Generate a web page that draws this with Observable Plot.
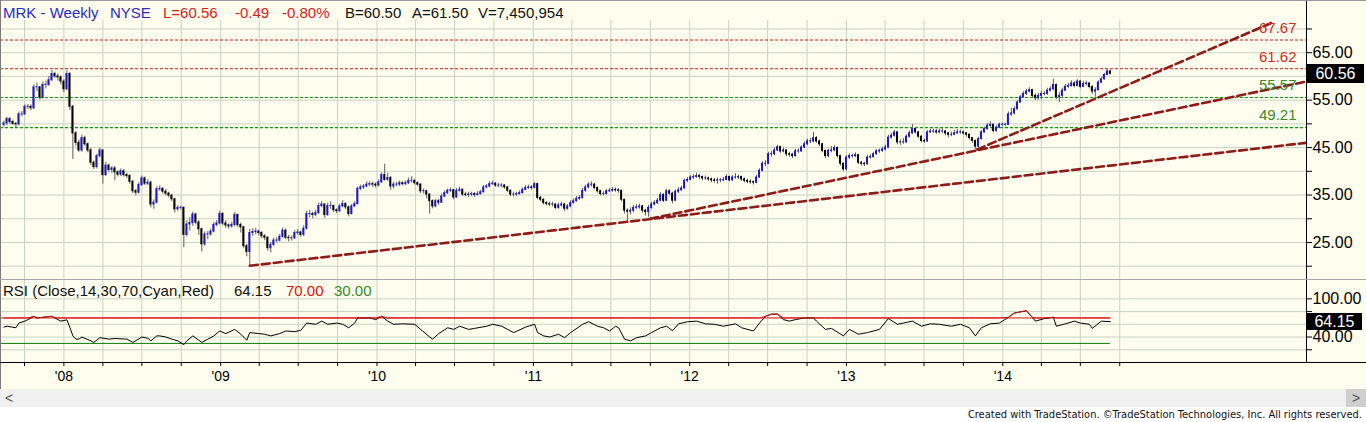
<!DOCTYPE html>
<html>
<head>
<meta charset="utf-8">
<script src="https://cdn.jsdelivr.net/npm/d3@7"></script>
<script src="https://cdn.jsdelivr.net/npm/@observablehq/plot@0.6"></script>
<style>
  body { margin: 0; background: #fff; }
  #wrap { position: relative; width: 1366px; height: 422px; overflow: hidden; font-family: Arial, "Liberation Sans", sans-serif; background: #fff; }
  .abs { position: absolute; white-space: pre; line-height: 1; }
</style>
</head>
<body>
<div id="wrap"></div>
<script>
// ---------------- DATA (weekly bars) ----------------
const firstBarDate = "2007-08-14";
const firstOpen = 49.8;
const closes = [
  50.1,51.0,50.4,50.0,49.9,52.0,52.0,53.6,53.6,53.3,
  57.7,57.7,55.5,58.2,58.2,59.2,60.5,60.0,59.8,58.9,
  57.3,60.5,53.6,48.0,46.0,44.4,47.0,45.7,44.4,41.8,
  40.9,43.2,44.4,39.2,41.2,40.3,40.6,39.8,39.3,40.0,
  39.2,39.0,37.8,35.8,35.5,37.1,38.5,37.4,37.6,33.0,
  33.4,36.2,36.3,35.7,35.3,34.9,34.1,32.0,32.3,32.3,
  26.6,28.8,29.1,30.9,29.2,27.8,24.6,26.7,26.7,27.3,
  28.7,29.0,31.0,29.0,28.6,28.4,28.7,30.8,28.7,28.2,
  24.2,23.0,27.0,27.2,27.3,27.0,26.3,26.0,23.8,24.5,
  25.4,25.4,26.2,27.5,26.0,25.9,25.9,27.0,27.1,26.6,
  27.9,31.0,31.0,30.8,31.2,32.7,33.0,30.8,32.7,32.7,
  31.8,31.6,32.6,33.1,32.4,31.0,32.6,33.1,36.3,36.6,
  36.8,37.2,37.3,37.2,37.0,37.7,39.2,38.2,38.6,36.8,
  37.2,37.2,37.5,37.3,37.5,38.0,38.0,37.5,37.2,35.8,
  35.8,35.1,33.7,32.6,33.7,33.4,34.7,35.4,35.9,36.0,
  34.5,35.9,36.1,35.1,35.0,35.1,35.2,35.0,35.2,35.6,
  36.6,36.8,37.3,37.4,37.0,37.0,37.0,36.6,35.9,35.1,
  35.1,35.2,35.4,36.1,36.5,36.6,36.5,37.3,34.4,34.0,
  33.3,33.1,33.0,33.0,32.3,32.8,33.0,32.1,32.6,33.3,
  33.7,34.2,34.4,35.9,36.6,37.2,37.2,36.5,35.8,35.2,
  35.2,35.8,35.9,36.1,36.0,35.9,34.0,31.7,31.5,31.7,
  32.3,32.4,32.6,31.7,31.4,32.3,33.0,33.3,33.8,35.0,
  33.8,35.8,35.3,33.8,35.7,36.0,36.4,38.0,38.2,38.7,
  38.8,39.0,38.8,38.5,38.5,38.3,38.1,38.0,38.1,38.1,
  38.2,38.8,38.1,38.7,38.7,38.8,38.3,38.0,37.8,37.7,
  37.6,38.7,40.1,41.6,41.6,43.6,43.6,44.4,45.1,44.2,
  44.4,43.6,43.5,43.2,44.2,44.2,45.0,45.7,46.3,46.3,
  47.0,46.3,45.7,44.3,43.2,44.3,44.4,44.9,43.2,41.6,
  40.4,42.9,43.2,43.2,43.4,41.8,41.6,41.5,42.9,43.0,
  43.6,44.2,44.3,44.6,45.0,47.1,47.5,48.2,46.1,46.1,
  46.1,47.3,48.0,48.9,48.2,47.3,46.4,46.3,48.2,48.4,
  48.4,48.2,48.4,48.4,48.0,47.7,47.7,48.0,48.2,48.2,
  48.0,47.7,47.0,46.4,45.2,46.8,48.2,48.9,49.6,49.8,
  48.5,49.2,49.8,49.8,49.8,52.0,52.2,53.1,54.5,55.6,
  56.3,56.8,57.1,55.9,55.4,55.9,56.3,56.3,57.0,57.3,
  58.2,55.6,55.9,57.0,57.8,58.0,58.5,58.0,58.9,57.8,
  58.4,58.5,57.8,56.8,57.1,58.7,59.4,60.3,61.05,60.56
];
const highs = [
  50.6,51.4,51.3,50.8,50.3,52.5,52.6,54.0,54.1,54.0,
  58.2,58.6,57.9,58.8,59.0,60.0,61.2,60.9,60.5,60.1,
  59.3,61.2,60.8,53.9,48.4,46.6,47.6,47.4,46.0,44.8,
  42.2,43.6,44.9,44.5,41.9,41.5,41.0,41.0,40.1,40.5,
  40.4,39.6,39.3,38.0,36.2,37.6,39.0,38.8,38.2,37.9,
  34.0,36.7,36.9,36.6,36.2,35.6,35.1,34.3,32.8,32.7,
  32.5,29.6,30.2,31.4,31.2,29.6,28.0,27.2,27.3,27.8,
  29.2,29.6,31.6,31.3,29.6,28.9,29.3,31.3,31.0,29.1,
  28.4,24.6,27.8,27.9,28.0,27.6,27.3,26.7,26.2,25.0,
  25.9,26.0,26.7,28.1,27.8,26.5,26.4,27.5,27.7,27.4,
  28.5,31.6,31.7,31.4,31.8,33.3,33.6,33.2,33.3,33.6,
  32.9,32.1,33.0,33.8,33.4,32.7,33.0,33.6,36.7,37.1,
  37.2,37.8,37.8,37.7,37.6,38.2,39.7,41.5,39.6,38.9,
  37.7,37.7,38.0,37.8,38.0,38.6,38.9,38.2,37.8,37.4,
  36.3,36.0,35.3,34.0,34.1,34.1,35.2,35.9,36.3,36.5,
  36.2,36.4,36.7,36.3,35.6,35.6,35.6,35.5,35.7,36.0,
  37.0,37.2,37.8,37.9,37.6,37.5,37.4,37.2,36.8,36.1,
  35.6,35.6,35.9,36.5,37.0,37.1,37.0,37.7,37.5,34.8,
  34.2,33.6,33.5,33.5,33.2,33.3,33.5,33.2,33.0,33.8,
  34.2,34.7,34.9,36.4,37.1,37.6,37.8,37.4,36.7,36.0,
  35.7,36.2,36.4,36.6,36.5,36.4,36.0,34.1,32.1,32.3,
  32.8,33.0,33.1,32.8,32.0,32.8,33.5,33.8,34.3,35.5,
  35.3,36.2,36.1,35.6,36.1,36.6,36.9,38.4,38.7,39.1,
  39.3,39.6,39.3,39.0,39.0,38.8,38.6,38.5,38.6,38.5,
  38.7,39.3,39.0,39.1,39.5,39.2,39.0,38.6,38.3,38.2,
  38.0,39.1,40.5,42.0,42.2,44.0,44.2,44.9,45.5,45.3,
  44.9,44.6,44.0,43.8,44.6,44.7,45.4,46.2,46.8,46.9,
  48.2,47.3,46.6,45.9,44.5,44.7,45.2,45.4,45.1,43.4,
  41.8,43.3,43.7,43.6,43.9,43.6,42.1,41.9,43.3,43.5,
  44.0,44.6,44.7,45.1,45.5,47.6,48.0,48.6,48.4,46.6,
  46.9,47.7,48.5,49.9,49.2,48.4,47.5,46.8,48.6,48.9,
  48.9,48.8,48.9,49.0,48.6,48.2,48.3,48.6,48.8,48.7,
  48.5,48.2,47.9,47.1,46.6,47.2,48.6,49.3,50.1,50.4,
  50.0,49.6,50.2,50.2,50.1,52.5,53.3,53.6,54.9,56.0,
  56.8,57.3,57.6,57.3,56.3,56.4,56.9,56.8,57.5,57.8,
  59.4,58.4,56.6,57.5,58.3,58.5,59.1,58.9,59.3,59.1,
  59.0,59.0,58.7,58.0,57.6,59.1,59.8,60.6,61.4,61.3
];
const lows = [
  49.3,49.6,49.9,49.7,49.2,49.6,51.5,51.8,53.0,52.8,
  53.0,56.8,55.0,55.2,57.4,57.9,58.9,59.6,59.0,58.2,
  56.6,57.0,52.8,42.5,45.3,44.0,44.0,45.2,43.9,41.2,
  40.4,40.5,42.8,37.3,38.9,39.8,39.6,38.0,38.8,38.9,
  38.8,38.5,37.3,35.3,34.8,35.2,36.8,37.0,37.0,32.3,
  32.0,33.1,35.8,35.2,34.8,34.4,33.6,31.2,31.6,31.8,
  23.9,26.2,27.4,28.4,28.7,26.5,23.0,24.2,25.6,26.3,
  27.0,28.3,28.7,28.5,28.0,27.8,28.0,28.3,28.2,27.0,
  23.8,22.0,20.1,26.3,26.6,26.4,25.8,25.4,23.2,22.8,
  24.2,24.9,25.1,25.9,25.6,25.1,25.3,25.6,26.5,26.1,
  26.3,27.6,30.2,30.0,30.4,30.9,32.3,30.1,30.5,32.0,
  31.3,31.1,31.3,32.3,31.9,30.4,30.8,32.4,32.9,35.9,
  36.2,36.5,36.8,36.6,36.5,36.7,37.4,37.9,37.9,36.0,
  36.3,36.7,36.8,36.9,37.0,37.2,37.5,37.1,36.8,35.3,
  35.2,34.2,31.0,32.1,32.3,32.8,33.2,34.4,35.1,35.5,
  34.0,34.3,35.6,34.7,34.6,34.5,34.7,34.5,34.8,35.0,
  35.4,36.3,36.5,37.0,36.6,36.6,36.5,36.2,35.5,34.7,
  34.6,34.7,35.0,35.2,35.9,36.2,36.0,36.3,34.0,33.6,
  32.9,32.7,32.6,32.5,31.9,32.0,32.5,31.5,31.8,32.3,
  33.1,33.5,33.9,34.1,35.6,36.3,36.7,36.1,35.4,34.8,
  34.8,35.0,35.5,35.6,35.6,35.4,33.6,31.0,29.4,30.8,
  31.3,31.9,32.0,31.2,30.6,30.3,32.0,32.7,33.0,33.6,
  33.4,33.6,34.9,33.2,33.6,35.3,35.8,36.2,37.6,38.0,
  38.3,38.5,38.3,38.0,38.1,37.9,37.6,37.5,37.3,37.6,
  37.8,38.0,37.8,37.9,38.3,38.3,37.9,37.6,37.4,37.3,
  37.1,37.4,38.5,39.9,41.0,41.4,43.0,43.3,44.2,43.8,
  43.9,43.1,43.0,42.7,43.0,43.8,44.0,44.8,45.4,45.9,
  46.0,45.9,45.2,43.9,42.7,42.9,43.9,44.1,42.8,41.1,
  40.0,40.1,42.5,42.8,42.9,41.4,41.1,41.0,41.3,42.6,
  42.8,43.4,43.8,44.0,44.3,44.8,46.8,47.2,45.6,45.5,
  45.7,45.9,47.0,47.8,47.9,46.9,46.0,45.9,46.1,48.0,
  48.0,47.8,47.9,48.0,47.5,47.1,47.3,47.5,47.8,47.8,
  47.6,47.2,46.6,45.9,44.6,45.0,46.6,48.0,48.7,49.3,
  48.1,48.2,49.0,49.4,49.5,49.6,51.6,51.9,52.9,54.3,
  55.4,56.0,56.6,55.5,54.9,55.0,55.1,55.9,56.0,56.7,
  57.0,55.1,54.5,55.6,56.8,57.5,57.7,57.6,57.8,57.4,
  57.6,58.0,57.4,56.2,55.6,56.9,58.5,59.2,60.2,60.3
];

// RSI(14): bar index -> value
const rsiBars = [0,1,4,5,7,8,10,11,13,16,17,19,21,22,23,24,25,26,29,30,32,35,37,41,43,46,48,49,51,52,54,56,58,60,61,63,65,66,68,70,72,74,77,79,81,82,85,87,89,92,94,97,99,101,104,106,108,111,113,115,117,118,122,124,126,128,130,133,137,139,142,143,145,148,150,152,155,157,161,163,166,168,170,174,177,178,180,182,185,187,189,193,195,198,200,202,204,205,207,209,211,214,216,219,221,223,225,228,231,234,237,240,244,246,250,252,254,256,258,260,262,264,267,270,271,274,276,280,282,285,288,292,295,298,300,303,306,309,312,316,319,322,324,326,329,332,335,337,341,343,344,347,350,351,354,357,359,362,363,366,369];
const rsiValues = [55.6,57,54.6,62,65,67.4,72.6,70,71,72.6,70,65,67,55,41.8,36.7,36.7,40,34,31.5,39,36.7,37.7,36.7,31.5,40,38,34,41.8,41.8,40,36.7,34,28,34,41.8,35,31.5,36.7,41.8,49.5,45.4,52,44.4,35,47,45.4,44.4,41.8,45.4,49.5,48.5,50.5,62,60,65,60,62,60,54.6,62,70,70,67.4,72.6,65,60,60.8,60,52,40,36.7,45.4,54.6,52,57,52,53.6,57,60,57,52,47,55.6,60,47,41.8,40,44.4,39,47,60,64,57,54.6,49.5,57,54.6,36.7,34,39,41.8,47,54.6,57,50,60.8,64,65,60.8,60,57,60.8,54.6,49.5,62,72.6,76,76,67.4,65,67.4,70,70,65,52,53.6,41.8,52,44.4,47,52,69,60,62,65,57,60.8,60,57,60,54.6,41.8,54.6,60.8,62,71,77.7,81.3,71,65,69,71,57,60.8,65,62,60,53.6,65,64.15];

// Horizontal levels and trendlines (bar index, price)
const redLevels = [67.67, 61.62];
const greenLevels = [55.57, 49.21];
const trendLines = [
  {name: "t1", pts: [[82, 20.1], [434.2, 46.0]]},
  {name: "t2", pts: [[215.5, 30.0], [434.2, 58.9]]},
  {name: "t3", pts: [[324.6, 44.6], [423.2, 71.4]]}
];

// Axis ticks / labels
const priceTicks = [20, 25, 30, 35, 40, 45, 50, 55, 60, 65, 70];
const priceLabeled = [25, 35, 45, 55, 65];
const rsiTicks = [20, 40, 60, 80, 100];
const rsiLabeled = [40, 100];
const yearLabels = ["'08", "'09", "'10", "'11", "'12", "'13", "'14"];
const firstYear = 2008;

// Header texts
const header = [
  {t: "MRK - Weekly", c: "#2b2bc8", x: 3},
  {t: "NYSE", c: "#2b2bc8", x: 110},
  {t: "L=60.56", c: "#d81c1c", x: 163},
  {t: "-0.49", c: "#d81c1c", x: 235},
  {t: "-0.80%", c: "#d81c1c", x: 282},
  {t: "B=60.50", c: "#111", x: 345},
  {t: "A=61.50", c: "#111", x: 412},
  {t: "V=7,450,954", c: "#111", x: 478}
];
const rsiHeader = [
  {t: "RSI (Close,14,30,70,Cyan,Red)", c: "#111", x: 3},
  {t: "64.15", c: "#111", x: 234},
  {t: "70.00", c: "#e01010", x: 286},
  {t: "30.00", c: "#2e8b2e", x: 334}
];
const footerText = "Created with TradeStation. \u00A9TradeStation Technologies, Inc. All rights reserved.";
const lastPrice = 60.56;
const lastRsi = 64.15;

// ---------------- BUILD ----------------
const BG = "#fffdee";
const GRID = "#c7d4c3";
const BLUE = "#1818d6";
const FONT = 'Arial, "Liberation Sans", sans-serif';
const DAY = 864e5;
const t0 = Date.parse(firstBarDate + "T00:00:00Z");
const dateOf = i => new Date(t0 + i * 7 * DAY);

const bars = closes.map((c, i) => ({
  date: dateOf(i),
  open: i ? closes[i - 1] : firstOpen,
  close: c, high: highs[i], low: lows[i]
}));
const up = bars.filter(d => d.close >= d.open);
const down = bars.filter(d => d.close < d.open);
const rsiPts = rsiBars.map((b, k) => ({date: dateOf(b), v: rsiValues[k]}));
const trendPts = trendLines.flatMap(l => l.pts.map(([b, p]) => ({line: l.name, date: dateOf(b), price: p})));

const X_DOMAIN = [new Date(Date.UTC(2007, 7, 6)), new Date(Date.UTC(2015, 11, 11))];
const quarters = d3.utcMonth.every(3).range(new Date(Date.UTC(2007, 9, 1)), new Date(Date.UTC(2014, 10, 1)));
const lastDate = dateOf(closes.length - 1);
const halfBody = 2.3 * DAY;

const wrap = document.getElementById("wrap");

const price = Plot.plot({
  width: 1366, height: 279,
  marginLeft: 0, marginRight: 60, marginTop: 0, marginBottom: 0,
  style: {background: BG, fontFamily: FONT, fontSize: "16px", color: "#000", overflow: "visible"},
  x: {type: "utc", domain: X_DOMAIN, axis: null},
  y: {domain: [17.2, 76], axis: "right", ticks: priceTicks,
      tickFormat: d => priceLabeled.includes(d) ? d.toFixed(2) : "",
      tickSize: 5, tickPadding: 1, line: true, label: null},
  marks: [
    Plot.ruleY(priceTicks, {stroke: GRID}),
    Plot.ruleX(quarters, {y1: 17.2, y2: 71.8, stroke: GRID}),
    Plot.ruleY(redLevels, {stroke: "#d01818", strokeDasharray: "3,2"}),
    Plot.ruleY(greenLevels, {stroke: "#00a000", strokeDasharray: "3,2", strokeWidth: 1.1}),
    Plot.ruleX(bars, {x: "date", y1: "low", y2: "high", stroke: "#5e5e5e", strokeWidth: 1}),
    Plot.rect(up, {x1: d => new Date(+d.date - halfBody), x2: d => new Date(+d.date + halfBody),
                   y1: "open", y2: "close", fill: BLUE, insetTop: -0.5, insetBottom: -0.5}),
    Plot.rect(down, {x1: d => new Date(+d.date - halfBody), x2: d => new Date(+d.date + halfBody),
                     y1: "open", y2: "close", fill: "#000", insetTop: -0.5, insetBottom: -0.5}),
    Plot.line(trendPts, {x: "date", y: "price", z: "line", stroke: "#8e1b1b", strokeWidth: 2.6,
                         strokeDasharray: "8,4", clip: true}),
    Plot.text(redLevels, {y: d => d, text: d => d.toFixed(2), frameAnchor: "right", textAnchor: "end",
                          dx: -10, lineAnchor: "middle", dy: -12, fill: "#d82a2a", fontSize: 15}),
    Plot.text(greenLevels, {y: d => d, text: d => d.toFixed(2), frameAnchor: "right", textAnchor: "end",
                            dx: -10, lineAnchor: "middle", dy: -12, fill: "#3a8a2a", fontSize: 15})
  ]
});
price.style.position = "absolute";
price.style.left = "0px";
price.style.top = "0px";
wrap.appendChild(price);

const RSI_TOP = 279;
const rsi = Plot.plot({
  width: 1366, height: 110,
  marginLeft: 0, marginRight: 60, marginTop: 0, marginBottom: 27,
  style: {background: BG, fontFamily: FONT, fontSize: "16px", color: "#000", overflow: "visible"},
  x: {type: "utc", domain: X_DOMAIN, ticks: quarters,
      tickFormat: d => d.getUTCMonth() === 0 ? yearLabels[d.getUTCFullYear() - firstYear] : "",
      tickSize: 4, tickPadding: 5, label: null},
  y: {domain: [0, 130.4], axis: "right", ticks: rsiTicks,
      tickFormat: d => rsiLabeled.includes(d) ? d.toFixed(2) : "",
      tickSize: 5, tickPadding: 1, line: true, label: null},
  marks: [
    Plot.ruleY(rsiTicks, {stroke: GRID}),
    Plot.ruleX(quarters, {y1: 0, y2: 130.4, stroke: GRID}),
    Plot.ruleY([70], {x1: X_DOMAIN[0], x2: lastDate, stroke: "#d81414"}),
    Plot.ruleY([30], {x1: X_DOMAIN[0], x2: lastDate, stroke: "#0a7a0a"}),
    Plot.line(rsiPts, {x: "date", y: "v", stroke: "#000", strokeWidth: 1}),
    Plot.line(rsiPts, {x: "date", y: d => Math.max(d.v, 70), stroke: "#d81414", strokeWidth: 1})
  ]
});
rsi.style.position = "absolute";
rsi.style.left = "0px";
rsi.style.top = RSI_TOP + "px";
wrap.appendChild(rsi);

// x-axis label font size
rsi.querySelectorAll('[aria-label^="x-axis"]').forEach(g => g.setAttribute("font-size", "14"));
rsi.querySelectorAll('[aria-label^="x-axis"] text').forEach(t => t.setAttribute("font-size", "14"));

function addDiv(css, text) {
  const d = document.createElement("div");
  d.className = "abs";
  Object.assign(d.style, css);
  if (text != null) d.textContent = text;
  wrap.appendChild(d);
  return d;
}

// frame lines
addDiv({left: "0px", top: "0px", width: "1366px", height: "1px", background: "#9a9a9a"});
addDiv({left: "0px", top: "0px", width: "1px", height: "389px", background: "#7a7a7a"});
addDiv({left: "0px", top: RSI_TOP + "px", width: "1366px", height: "1px", background: "#a8a8a8"});
const axisY = RSI_TOP + rsi.scale("y").apply(0);
addDiv({left: "0px", top: (axisY - 0.5) + "px", width: "1366px", height: "1px", background: "#000"});

// headers
header.forEach(h => addDiv({left: h.x + "px", top: "5px", fontSize: "15px", color: h.c}, h.t));
rsiHeader.forEach(h => addDiv({left: h.x + "px", top: (RSI_TOP + 4) + "px", fontSize: "15px", color: h.c}, h.t));

// last value boxes
const py = price.scale("y").apply(lastPrice);
addDiv({left: "1307px", top: (py - 9.5) + "px", width: "57px", height: "19px", lineHeight: "19px",
        background: "#000", color: "#fff", fontSize: "16px", textAlign: "center"}, lastPrice.toFixed(2));
const ry = RSI_TOP + rsi.scale("y").apply(lastRsi);
addDiv({left: "1307px", top: (ry - 8.5) + "px", width: "55px", height: "17px", lineHeight: "17px",
        background: "#000", color: "#fff", fontSize: "16px", textAlign: "center"}, lastRsi.toFixed(2));

// scrollbar
addDiv({left: "0px", top: "389px", width: "1366px", height: "18px", background: "#f0f0f0"});
addDiv({left: "5px", top: "391px", fontSize: "14px", color: "#555"}, "<");
addDiv({left: "1346px", top: "389px", width: "20px", height: "18px", background: "#cfcfcf"});
addDiv({left: "1352px", top: "391px", fontSize: "14px", color: "#555"}, ">");

// footer
addDiv({right: "4px", top: "409px", fontSize: "11px", color: "#111",
        fontFamily: '"Liberation Sans Narrow", "Arial Narrow", "DejaVu Sans Condensed", Arial, sans-serif'},
       footerText);
</script>
</body>
</html>
